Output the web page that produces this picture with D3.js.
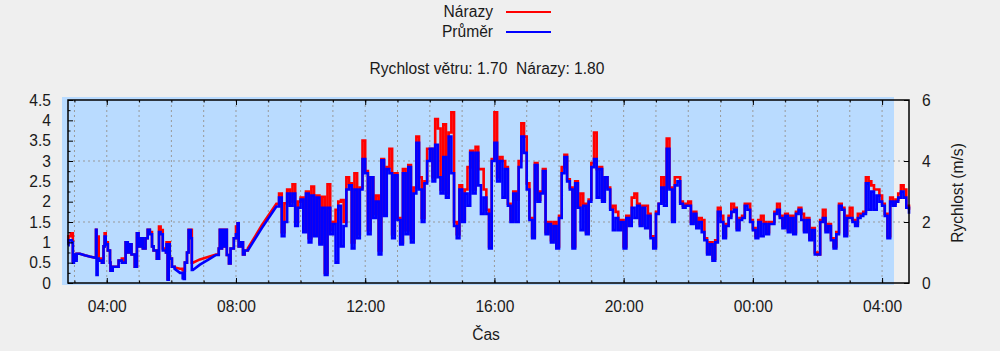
<!DOCTYPE html>
<html>
<head>
<meta charset="utf-8">
<script src="https://d3js.org/d3.v7.min.js"></script>
<style>
  body { margin: 0; background: #efefef; }
  text { font-family: "Liberation Sans", Arial, sans-serif; }
</style>
</head>
<body>
<svg id="chart" width="1000" height="351"></svg>
<script>
// early, irregular samples: minutes after midnight, mean, gust
var earlyTime = [168,169,173,175,177,179,181,184,190,199,208,218,220,221,223,225,229,231,234,236,
                 238,242,246,247,251,257,262,268,272,275,279,283,286,292,296,299,303,307,312,316,
                 320,324,327,331,333,337,340,344,350,351,353,355,357,361,366,376,381,383,385,389,
                 392,396,398,400,413,428,443,448,450,452,454,456,459,463,467,470,476,480,483,485,
                 489,493,496,502,528];
var earlyMean = [0.93,1.05,1.05,1.0,0.5,0.7,0.55,0.72,0.72,0.68,0.65,0.62,1.31,0.2,0.6,0.55,0.55,0.5,0.9,1.14,
                 0.95,0.8,0.5,0.3,0.4,0.4,0.55,0.5,0.5,1.0,0.75,0.95,0.7,0.4,1.22,0.9,1.1,0.85,1.1,1.31,
                 1.2,0.9,0.8,0.8,0.6,1.25,1.2,0.8,0.75,0.95,0.08,0.95,0.6,0.4,0.35,0.25,0.12,0.1,0.5,0.75,
                 1.3,1.1,0.32,0.32,0.45,0.57,0.69,0.85,1.31,0.85,1.31,0.9,1.31,0.69,0.48,0.85,1.1,1.2,1.47,0.9,
                 1.0,0.7,0.8,0.8,1.35];
var earlyGust = [0.98,1.15,1.22,1.22,0.55,0.7,0.6,0.72,0.72,0.68,0.65,0.62,1.31,0.7,1.14,0.6,0.55,0.5,0.9,1.22,
                 1.0,0.8,0.5,0.3,0.4,0.4,0.55,0.6,0.5,1.0,0.75,0.95,0.7,0.4,1.22,0.9,1.1,0.85,1.1,1.31,
                 1.25,0.9,0.8,0.8,0.6,1.39,1.3,0.85,0.75,1.0,0.1,1.0,0.6,0.4,0.38,0.35,0.32,0.3,0.5,0.75,
                 1.31,1.31,0.5,0.5,0.58,0.64,0.7,0.85,1.31,0.85,1.31,0.9,1.31,0.69,0.48,0.85,1.1,1.39,1.47,0.9,
                 1.0,0.7,0.8,0.85,1.42];

// regular 5-minute samples from 09:15 to 04:50
var denseStart = 555, denseStep = 5;
var denseMean = [
  1.88,2.1,1.15,1.5,2.2,1.9,2.2,1.4,1.85,                       // 09:15
  2.05,1.25,2.2,1.0,2.15,1.15,2.1,0.95,1.85,0.2,1.85,1.2,       // 10
  1.45,0.5,1.9,0.9,1.4,2.3,2.4,0.85,2.3,1.1,2.3,3.05,           // 11
  2.7,1.2,2.6,1.6,2.0,0.7,3.02,1.65,2.8,2.7,1.1,2.65,           // 12
  1.55,0.95,2.7,1.2,2.85,1.0,2.2,3.45,2.3,1.5,2.45,3.0,         // 13
  3.3,2.5,3.4,2.6,2.2,3.1,2.1,3.6,2.7,1.4,1.1,2.3,              // 14
  1.5,2.2,1.9,3.2,2.2,3.2,2.4,1.7,2.1,1.7,0.85,3.0,             // 15
  3.45,2.5,3.0,2.1,2.8,1.9,1.5,2.2,1.5,2.85,3.6,3.2,            // 16
  2.3,1.55,1.1,2.9,2.0,2.2,2.75,1.2,1.45,1.0,1.4,0.85,          // 17
  1.6,2.7,3.1,2.5,2.3,0.85,2.45,1.85,1.3,1.9,1.2,2.0,           // 18
  2.85,3.05,2.1,2.8,2.0,2.6,2.3,1.8,1.3,1.6,1.3,1.5,            // 19
  0.85,1.6,1.4,1.85,1.6,1.9,1.4,1.85,1.35,1.65,1.1,0.85,        // 20
  1.7,1.95,2.35,1.9,3.3,2.3,1.5,2.4,2.5,1.95,1.85,1.9,          // 21
  1.9,1.45,1.7,1.35,1.5,1.25,1.05,0.7,0.95,0.55,1.0,1.75,       // 22
  1.5,1.1,1.4,1.6,1.75,1.8,1.3,1.55,1.6,1.9,1.8,1.5,            // 23
  1.3,1.1,1.5,1.15,1.45,1.2,1.45,1.45,1.7,1.8,1.6,1.35,         // 00
  1.65,1.25,1.6,1.2,1.7,1.8,1.55,1.25,1.55,1.05,1.3,0.7,        // 01
  0.7,1.5,1.6,1.25,1.4,1.05,0.85,1.2,1.9,1.8,1.15,1.6,          // 02
  1.6,1.5,1.4,1.6,1.65,1.7,2.45,1.8,2.25,1.8,2.15,2.0,          // 03
  1.9,1.65,1.1,2.0,1.9,2.0,2.1,2.25,2.1,1.85,1.7                // 04
];
var denseGust = [
  1.95,2.2,1.25,1.96,2.3,2.0,2.43,1.5,2.0,
  2.1,1.3,2.25,1.1,2.37,1.2,2.15,1.0,2.12,0.25,2.43,1.3,
  1.5,1.8,2.0,2.04,1.5,2.6,2.45,1.0,2.7,1.2,2.35,3.5,
  2.75,1.3,2.6,1.7,2.15,0.8,3.05,1.7,2.85,3.3,1.2,2.7,
  1.6,1.0,2.8,1.3,2.9,1.1,2.35,3.6,2.6,1.6,2.5,3.3,
  3.3,2.6,4.03,3.8,2.3,3.9,2.2,3.7,4.2,1.5,1.2,2.4,
  1.55,2.3,2.85,3.25,2.3,3.35,2.8,2.8,2.3,1.8,0.9,3.05,
  4.2,2.6,3.1,3.0,2.85,1.95,1.55,2.25,2.05,3.0,3.93,3.6,
  2.45,1.6,1.15,2.95,2.05,2.25,2.8,1.25,1.5,1.05,1.5,0.9,
  1.65,2.85,3.15,2.55,2.35,0.9,2.5,1.9,2.2,1.95,1.25,2.05,
  2.95,3.7,2.8,2.85,2.05,2.6,2.35,1.85,1.9,1.75,1.35,1.55,
  0.9,1.65,1.45,2.1,2.2,1.95,1.45,1.9,1.9,1.7,1.15,0.9,
  1.75,1.95,2.6,2.0,3.55,2.35,1.55,2.6,2.6,2.0,1.9,1.95,
  2.0,1.5,1.75,1.4,1.6,1.55,1.1,0.75,1.0,0.6,1.05,1.85,
  1.65,1.15,1.45,1.65,1.95,1.85,1.35,1.6,1.65,1.95,1.95,1.55,
  1.35,1.15,1.55,1.65,1.5,1.25,1.5,1.5,1.75,1.95,1.65,1.4,
  1.7,1.3,1.65,1.25,1.75,1.85,1.7,1.3,1.6,1.1,1.35,0.75,
  0.7,1.55,1.8,1.3,1.45,1.1,0.9,1.25,1.95,1.85,1.2,1.65,
  1.85,1.55,1.45,1.7,1.7,1.75,2.6,2.5,2.4,2.3,2.3,2.15,
  1.95,1.7,1.15,2.1,1.95,2.05,2.2,2.4,2.3,1.9,1.8
];

var seriesNames = ["Nárazy", "Průměr"];
var seriesColors = ["#ff0000", "#0000ff"];
var leftTicks = [0,0.5,1,1.5,2,2.5,3,3.5,4,4.5];
var rightTicks = [0,2,4,6];
var timeStart = 168, timeEnd = 1730;   // 02:48 .. 04:50 next day
var titleText = "Rychlost větru: 1.70  Nárazy: 1.80";

var day0 = new Date(2024, 0, 1);
var at = m => new Date(day0.getTime() + m * 60000);
var FS = 15.6;

var pts = [];
earlyTime.forEach((t, i) => pts.push({t: earlyTime[i], m: earlyMean[i], g: earlyGust[i]}));
denseMean.forEach((v, i) => pts.push({t: denseStart + i * denseStep, m: v, g: denseGust[i]}));

// each sample holds its value until the next one; longer gaps are bridged by a straight line
function stepped(key) {
  var out = [];
  pts.forEach((p, i) => {
    out.push([p.t, p[key]]);
    var nx = pts[i + 1];
    if (nx && nx.t - p.t <= 6) out.push([nx.t, p[key]]);
  });
  return out;
}

var svg = d3.select("#chart");
var L = 68, R = 909, T = 100, B = 283;

var x = d3.scaleTime().domain([at(timeStart), at(timeEnd)]).range([L, R]);
var yL = d3.scaleLinear().domain([0, 4.5]).range([B, T]);
var yR = d3.scaleLinear().domain([0, 6]).range([B, T]);

svg.append("rect").attr("width", 1000).attr("height", 351).attr("fill", "#efefef");
svg.append("rect").attr("x", 62).attr("y", 97).attr("width", 832).attr("height", 188).attr("fill", "#b9dbff");

// grid
var grid = svg.append("g").attr("stroke", "#999").attr("stroke-dasharray", "2,3").attr("stroke-width", 1);
grid.selectAll("line.h").data([2, 4]).enter().append("line")
  .attr("x1", L).attr("x2", R).attr("y1", d => yR(d)).attr("y2", d => yR(d));
grid.selectAll("line.v").data(x.ticks(d3.timeHour.every(1))).enter().append("line")
  .attr("x1", d => x(d)).attr("x2", d => x(d)).attr("y1", T).attr("y2", B);

// data lines
var line = d3.line().x(d => x(at(d[0]))).y(d => yL(d[1]));
svg.append("path").attr("d", line(stepped("g"))).attr("fill", "none")
  .attr("stroke", seriesColors[0]).attr("stroke-width", 2.6);
svg.append("path").attr("d", line(stepped("m"))).attr("fill", "none")
  .attr("stroke", seriesColors[1]).attr("stroke-width", 2.6);

// frame
svg.append("rect").attr("x", L).attr("y", T).attr("width", R - L).attr("height", B - T)
  .attr("fill", "none").attr("stroke", "#000").attr("stroke-width", 1.5);

function styleAxis(g) {
  g.attr("font-size", FS).attr("font-family", "Liberation Sans, Arial, sans-serif").attr("color", "#000");
  g.select(".domain").remove();
  g.selectAll("text").attr("fill", "#1a1a1a");
}

// x axes
svg.append("g").attr("transform", `translate(0,${B})`)
  .call(d3.axisBottom(x).ticks(d3.timeHour.every(1)).tickFormat("").tickSizeInner(-2.5).tickSizeOuter(0)).call(styleAxis);
svg.append("g").attr("transform", `translate(0,${B})`)
  .call(d3.axisBottom(x).ticks(d3.timeHour.every(4)).tickFormat(d3.timeFormat("%H:%M"))
    .tickSizeInner(-5).tickSizeOuter(0).tickPadding(18)).call(styleAxis);
svg.append("g").attr("transform", `translate(0,${T})`)
  .call(d3.axisTop(x).ticks(d3.timeHour.every(1)).tickFormat("").tickSizeInner(-2.5).tickSizeOuter(0)).call(styleAxis);
svg.append("g").attr("transform", `translate(0,${T})`)
  .call(d3.axisTop(x).ticks(d3.timeHour.every(4)).tickFormat("").tickSizeInner(-5).tickSizeOuter(0)).call(styleAxis);

// y axes
svg.append("g").attr("transform", `translate(${L},0)`)
  .call(d3.axisLeft(yL).tickValues(d3.range(0.25, 4.5, 0.5)).tickFormat("").tickSizeInner(-2.5).tickSizeOuter(0)).call(styleAxis);
svg.append("g").attr("transform", `translate(${L},0)`)
  .call(d3.axisLeft(yL).tickValues(leftTicks).tickFormat(d3.format("~g"))
    .tickSizeInner(-5).tickSizeOuter(0).tickPadding(17)).call(styleAxis);
svg.append("g").attr("transform", `translate(${R},0)`)
  .call(d3.axisRight(yR).tickValues(rightTicks).tickFormat(d3.format("~g"))
    .tickSizeInner(-5).tickSizeOuter(0).tickPadding(13)).call(styleAxis);

// texts
var txt = (s, xx, yy, anchor) => svg.append("text").attr("x", xx).attr("y", yy)
  .attr("text-anchor", anchor).attr("font-size", FS).attr("fill", "#1a1a1a").style("white-space", "pre").text(s);

txt(titleText, 487, 74, "middle");
txt("Čas", 486, 340, "middle");
svg.append("text").attr("transform", "translate(963,193) rotate(-90)").attr("text-anchor", "middle")
  .attr("font-size", FS).attr("fill", "#1a1a1a").text("Rychlost (m/s)");

seriesNames.forEach((n, i) => {
  txt(n, 493, 17 + i * 20, "end");
  svg.append("line").attr("x1", 506).attr("x2", 551).attr("y1", 12 + i * 20).attr("y2", 12 + i * 20)
    .attr("stroke", seriesColors[i]).attr("stroke-width", 2);
});
</script>
</body>
</html>
